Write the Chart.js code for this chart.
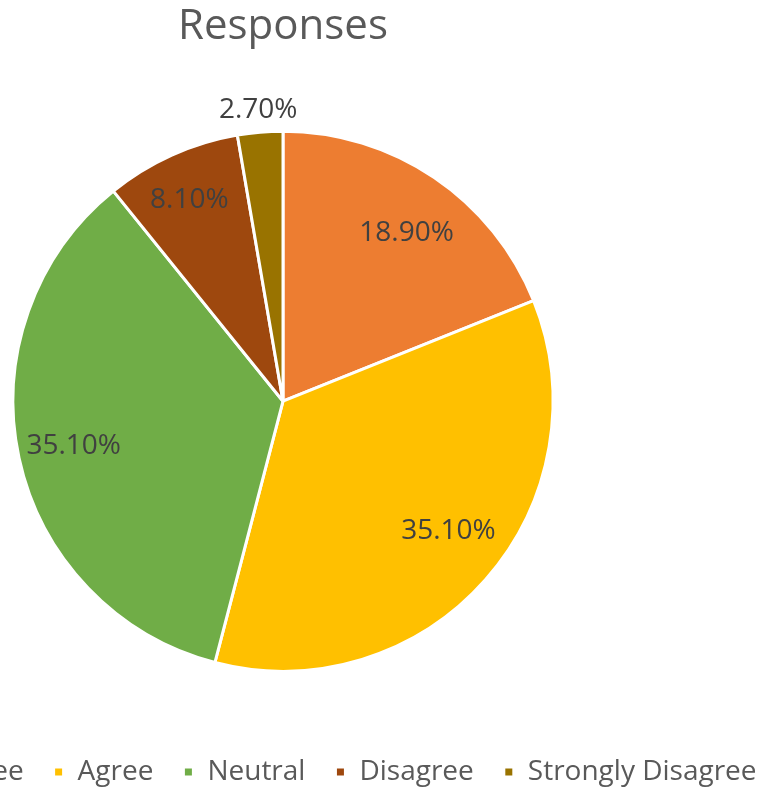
<!DOCTYPE html>
<html>
<head>
<meta charset="utf-8">
<script src="https://cdn.jsdelivr.net/npm/chart.js@4/dist/chart.umd.min.js"></script>
<style>
  html, body { margin: 0; padding: 0; background: #fff; overflow: hidden; width: 760px; height: 790px; }
  #wrap { position: absolute; left: -400px; top: 0; width: 1366px; height: 796px; }
</style>
</head>
<body>
<div id="wrap"><canvas id="c" width="1366" height="796"></canvas></div>
<script>
const chartTitle = 'Responses';
const categories = ['Strongly Agree', 'Agree', 'Neutral', 'Disagree', 'Strongly Disagree'];
const percentages = [18.9, 35.1, 35.1, 8.1, 2.7];
const sliceColors = ['#ED7D31', '#FFC000', '#70AD47', '#9E480E', '#997300'];

// label placement (style): radial factor and small angular nudge in degrees
const labelRadiusFactor = [0.772, 0.778, 0.793, 0.823, 1.082];
const labelAngleNudge = [2.3, -3.3, 0, -0.6, 0];

const FONT = '"Open Sans", "Noto Sans", sans-serif';

const sliceLabels = {
  id: 'sliceLabels',
  afterDatasetsDraw(chart) {
    const ctx = chart.ctx;
    const meta = chart.getDatasetMeta(0);
    const data = chart.data.datasets[0].data;
    ctx.save();
    ctx.font = '28px ' + FONT;
    ctx.fillStyle = '#404040';
    ctx.textAlign = 'center';
    ctx.textBaseline = 'middle';
    meta.data.forEach((arc, i) => {
      const p = arc.getProps(['x', 'y', 'startAngle', 'endAngle', 'outerRadius'], true);
      const mid = (p.startAngle + p.endAngle) / 2 + labelAngleNudge[i] * Math.PI / 180;
      const r = p.outerRadius * labelRadiusFactor[i];
      ctx.fillText(data[i].toFixed(2) + '%', p.x + Math.cos(mid) * r, p.y + Math.sin(mid) * r);
    });
    ctx.restore();
  }
};

new Chart(document.getElementById('c'), {
  type: 'pie',
  data: {
    labels: categories,
    datasets: [{
      data: percentages,
      backgroundColor: sliceColors,
      borderColor: '#ffffff',
      borderWidth: 3,
      radius: 270
    }]
  },
  options: {
    responsive: false,
    animation: false,
    layout: { padding: 0 },
    plugins: {
      title: {
        display: true,
        text: chartTitle,
        color: '#595959',
        font: { family: FONT, size: 42, weight: 'normal' },
        padding: { top: 2, bottom: 22 }
      },
      legend: {
        position: 'bottom',
        labels: {
          color: '#595959',
          font: { family: FONT, size: 28 },
          boxWidth: 10,
          boxHeight: 10,
          padding: 30
        }
      },
      tooltip: { enabled: false }
    }
  },
  plugins: [sliceLabels]
});
</script>
</body>
</html>
